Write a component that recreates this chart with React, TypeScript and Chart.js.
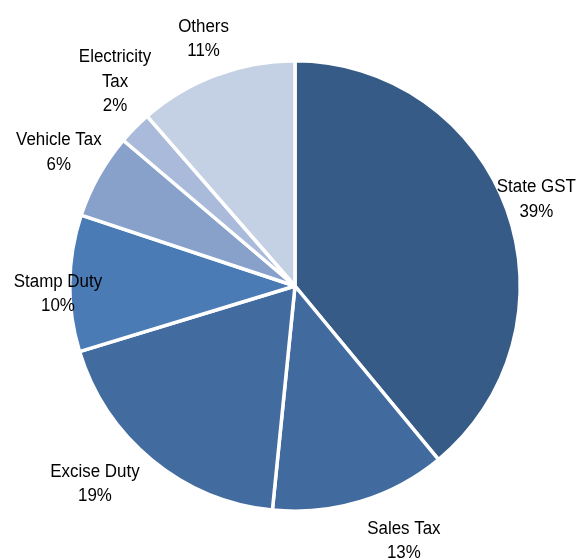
import React, { useEffect, useRef } from "react";
import { Chart, registerables } from "chart.js";

Chart.register(...registerables);

const categories = ["State GST", "Sales Tax", "Excise Duty", "Stamp Duty", "Vehicle Tax", "Electricity Tax", "Others"];
const shares = [39.0, 12.6, 18.7, 9.8, 6.1, 2.4, 11.4];
const labelLines = [
  ["State GST"],
  ["Sales Tax"],
  ["Excise Duty"],
  ["Stamp Duty"],
  ["Vehicle Tax"],
  ["Electricity", "Tax"],
  ["Others"],
];
const sliceColors = ["#365b87", "#416b9e", "#426c9f", "#4a7bb5", "#87a1cb", "#a9badb", "#c4d0e3"];

// label placement: [radius factor, angle tweak in degrees]
const labelPlacement: [number, number][] = [
  [1.138, 0.1],
  [1.231, -6.2],
  [1.249, 5.9],
  [1.053, -2.7],
  [1.204, 0.1],
  [1.209, 4.0],
  [1.169, 0.2],
];

const labelPlugin = {
  id: "outsideLabels",
  afterDatasetsDraw(chart: any) {
    const meta = chart.getDatasetMeta(0);
    const ctx = chart.ctx as CanvasRenderingContext2D;
    const data = chart.data.datasets[0].data as number[];
    const total = data.reduce((a, b) => a + b, 0);
    const lineH = 24.5;
    meta.data.forEach((arc: any, i: number) => {
      const { x, y, startAngle, endAngle, outerRadius } = arc.getProps(
        ["x", "y", "startAngle", "endAngle", "outerRadius"],
        true
      );
      const [rf, tweak] = labelPlacement[i];
      const mid = (startAngle + endAngle) / 2 + (tweak * Math.PI) / 180;
      const r = outerRadius * rf;
      const cx = x + Math.cos(mid) * r;
      const cy = y + Math.sin(mid) * r;
      const lines = [...labelLines[i], Math.round((data[i] / total) * 100) + "%"];
      const top = cy - ((lines.length - 1) * lineH) / 2;
      lines.forEach((t, k) => {
        ctx.save();
        ctx.fillStyle = "#000000";
        ctx.font = "18px 'Liberation Sans', Arial, sans-serif";
        ctx.textAlign = "center";
        ctx.textBaseline = "middle";
        ctx.translate(cx, top + k * lineH);
        ctx.scale(0.94, 1);
        ctx.fillText(t, 0, 0);
        ctx.restore();
      });
    });
  },
};

export default function App() {
  const ref = useRef<HTMLCanvasElement | null>(null);
  useEffect(() => {
    if (!ref.current) return;
    const chart = new Chart(ref.current, {
      type: "pie",
      data: {
        labels: categories,
        datasets: [
          {
            data: shares,
            backgroundColor: sliceColors,
            borderColor: "#ffffff",
            borderWidth: 3.5,
          },
        ],
      },
      options: {
        animation: false,
        responsive: false,
        maintainAspectRatio: false,
        layout: { padding: { left: 68, right: 57, top: 58, bottom: 44 } },
        plugins: {
          legend: { display: false },
          tooltip: { enabled: false },
        },
      },
      plugins: [labelPlugin],
    });
    return () => chart.destroy();
  }, []);
  return (
    <div style={{ position: "absolute", left: 0, top: 0, width: 579, height: 558, background: "#fff" }}>
      <canvas ref={ref} width={579} height={558} style={{ width: 579, height: 558 }} />
    </div>
  );
}
